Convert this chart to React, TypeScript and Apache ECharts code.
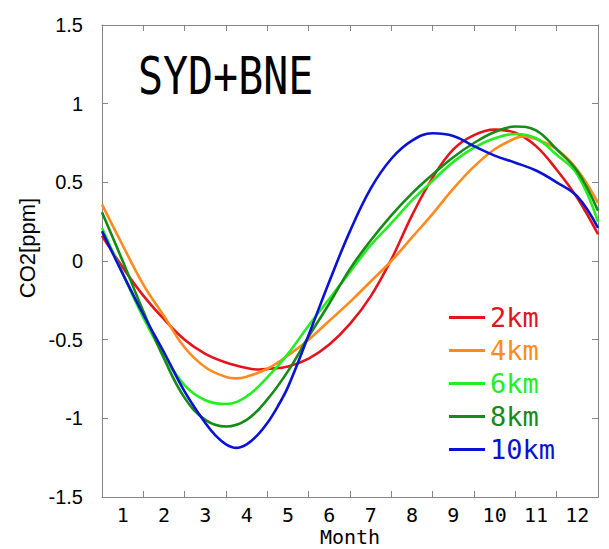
import React, { useEffect, useRef } from "react";
import * as echarts from "echarts";

const monthLabels = ["1", "2", "3", "4", "5", "6", "7", "8", "9", "10", "11", "12"];

// month positions (x) and CO2 anomalies (y), per altitude
const km2Month = [0.5, 1, 1.5, 2, 2.5, 3, 3.5, 4, 4.3, 4.5, 5, 5.5, 6, 6.5, 7, 7.5, 8, 8.5, 9, 9.5, 10, 10.5, 11, 11.5, 12, 12.5];
const km2 = [0.16, -0.04, -0.22, -0.37, -0.50, -0.59, -0.645, -0.68, -0.69, -0.686, -0.67, -0.62, -0.53, -0.40, -0.225, 0.01, 0.29, 0.53, 0.71, 0.80, 0.835, 0.815, 0.73, 0.58, 0.40, 0.17];

const km4Month = [0.5, 1, 1.5, 2, 2.5, 3, 3.5, 3.75, 4, 4.5, 5, 5.5, 6, 6.5, 7, 7.5, 8, 8.5, 9, 9.5, 10, 10.5, 10.7, 11, 11.5, 12, 12.5];
const km4 = [0.36, 0.10, -0.15, -0.35, -0.55, -0.675, -0.737, -0.746, -0.735, -0.685, -0.60, -0.50, -0.38, -0.26, -0.13, 0.0, 0.15, 0.30, 0.46, 0.60, 0.71, 0.78, 0.792, 0.775, 0.71, 0.58, 0.37];

const km6Month = [0.5, 1, 1.5, 2, 2.5, 3, 3.5, 4, 4.5, 5, 5.5, 6, 6.5, 7, 7.5, 8, 8.5, 9, 9.5, 10, 10.5, 11, 11.5, 12, 12.5];
const km6 = [0.21, -0.08, -0.36, -0.60, -0.79, -0.885, -0.909, -0.86, -0.74, -0.59, -0.41, -0.24, -0.07, 0.10, 0.24, 0.385, 0.51, 0.63, 0.72, 0.78, 0.807, 0.78, 0.675, 0.55, 0.25];

const km8Month = [0.5, 1, 1.5, 2, 2.5, 3, 3.5, 4, 4.5, 5, 5.5, 6, 6.5, 7, 7.5, 8, 8.5, 9, 9.5, 10, 10.5, 11, 11.5, 12, 12.5];
const km8 = [0.31, 0.0, -0.32, -0.62, -0.87, -1.01, -1.052, -1.01, -0.88, -0.70, -0.48, -0.27, -0.05, 0.13, 0.29, 0.43, 0.55, 0.66, 0.75, 0.82, 0.855, 0.83, 0.71, 0.57, 0.32];

const km10Month = [0.5, 1, 1.5, 2, 2.5, 3, 3.25, 3.5, 3.75, 4, 4.25, 4.5, 4.75, 5, 5.5, 6, 6.5, 7, 7.5, 8, 8.5, 9, 9.5, 10, 10.5, 11, 11.5, 12, 12.5];
const km10 = [0.19, -0.08, -0.34, -0.58, -0.83, -1.03, -1.11, -1.165, -1.188, -1.165, -1.11, -1.03, -0.925, -0.80, -0.47, -0.13, 0.19, 0.46, 0.65, 0.765, 0.812, 0.795, 0.73, 0.67, 0.625, 0.575, 0.50, 0.41, 0.21];

const seriesNames = ["2km", "4km", "6km", "8km", "10km"];
const seriesMonths = [km2Month, km4Month, km6Month, km8Month, km10Month];
const seriesValues = [km2, km4, km6, km8, km10];
const seriesColors = ["#e4141c", "#ff8a1e", "#22ee22", "#178a17", "#0a12d4"];

const axisGray = "#858585";
const monoFont = "DejaVu Sans Mono";

export default function App() {
  const ref = useRef<HTMLDivElement>(null);

  useEffect(() => {
    if (!ref.current) return;
    const chart = echarts.init(ref.current, null, { renderer: "svg" });

    const series = seriesNames.map((name, i) => ({
      name,
      type: "line",
      xAxisIndex: 1,
      yAxisIndex: 0,
      smooth: 0.4,
      symbol: "none",
      lineStyle: { width: 2.6, color: seriesColors[i] },
      itemStyle: { color: seriesColors[i] },
      data: seriesMonths[i].map((m, j) => [m, seriesValues[i][j]]),
    }));

    const boxAxisLine = { show: true, onZero: false, lineStyle: { color: axisGray, width: 1 } };
    const boxTick = { show: true, inside: true, length: 6, lineStyle: { color: axisGray } };

    chart.setOption({
      animation: false,
      backgroundColor: "#ffffff",
      grid: { left: 102, right: 11, top: 25, bottom: 52, containLabel: false, outerBoundsMode: "none" },
      legend: {
        orient: "vertical",
        left: 449,
        top: 304,
        padding: 0,
        itemGap: 6,
        itemWidth: 36,
        itemHeight: 3,
        icon: "rect",
        selectedMode: false,
        textStyle: { fontFamily: monoFont, fontSize: 27, lineHeight: 27 },
        data: seriesNames.map((n, i) => ({ name: n, textStyle: { color: seriesColors[i] } })),
      },
      xAxis: [
        {
          type: "category",
          data: monthLabels,
          boundaryGap: true,
          position: "bottom",
          axisLine: boxAxisLine,
          axisTick: boxTick,
          axisLabel: { color: "#000", fontFamily: monoFont, fontSize: 20, lineHeight: 18, margin: 9 },
          splitLine: { show: false },
          name: "Month",
          nameLocation: "middle",
          nameGap: 31,
          nameMoveOverlap: false,
          nameTextStyle: { color: "#000", fontFamily: monoFont, fontSize: 20, lineHeight: 18 },
        },
        {
          type: "value",
          min: 0.5,
          max: 12.5,
          position: "bottom",
          show: false,
          axisLine: { onZero: false },
        },
        {
          type: "category",
          data: monthLabels,
          boundaryGap: true,
          position: "top",
          axisLine: boxAxisLine,
          axisTick: boxTick,
          axisLabel: { show: false },
          splitLine: { show: false },
        },
      ],
      yAxis: [
        {
          type: "value",
          min: -1.5,
          max: 1.5,
          interval: 0.5,
          position: "left",
          axisLine: boxAxisLine,
          axisTick: boxTick,
          axisLabel: {
            color: "#000",
            fontFamily: "Liberation Sans",
            fontSize: 20,
            margin: 19,
            formatter: (v: number) => String(v),
          },
          splitLine: { show: false },
          name: "CO2[ppm]",
          nameLocation: "middle",
          nameGap: 64,
          nameMoveOverlap: false,
          nameTextStyle: { color: "#000", fontFamily: "Liberation Sans", fontSize: 22, padding: [0, 0, 0, 26] },
        },
        {
          type: "value",
          min: -1.5,
          max: 1.5,
          interval: 0.5,
          position: "right",
          axisLine: boxAxisLine,
          axisTick: boxTick,
          axisLabel: { show: false },
          splitLine: { show: false },
        },
      ],
      graphic: [
        {
          type: "text",
          x: 138,
          y: 76,
          scaleX: 0.8,
          style: {
            text: "SYD+BNE",
            fontFamily: monoFont,
            fontSize: 52,
            fill: "#000",
            align: "left",
            verticalAlign: "middle",
          },
        },
      ],
      series,
    });

    return () => chart.dispose();
  }, []);

  return (
    <div
      ref={ref}
      style={{ position: "fixed", left: 0, top: 0, width: 609, height: 549, background: "#fff" }}
    />
  );
}
